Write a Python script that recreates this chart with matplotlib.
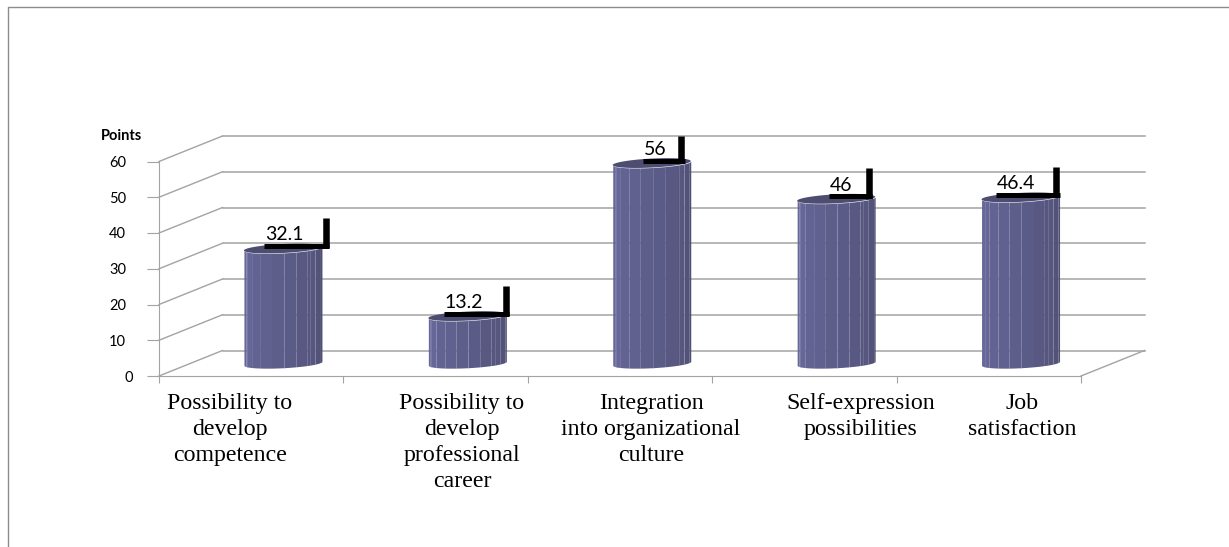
import matplotlib
matplotlib.use('Agg')
import matplotlib.pyplot as plt
import numpy as np

categories = ['Possibility to\ndevelop\ncompetence',
              'Possibility to\ndevelop\nprofessional\ncareer',
              'Integration\ninto organizational\nculture',
              'Self-expression\npossibilities',
              'Job\nsatisfaction']
values = [32.1, 13.2, 56, 46, 46.4]
value_labels = ['32.1', '13.2', '56', '46', '46.4']
yticks = [0, 10, 20, 30, 40, 50, 60]

W, H = 1229, 547
grid_col = '#a3a3a3'
side_cols = ['#67679a', '#666698', '#636393', '#61618f', '#5e5e8b', '#5b5b87', '#585882', '#56567e', '#53537a', '#505076']

# callout lines, px offsets from bar centre
call_left = [-19, -23.5, -9, -7, -25]
call_right = [46, 41.5, 33, 36, 39]
# centre of the category labels in px
label_x = [230, 462, 651, 861, 1022]

fig = plt.figure(figsize=(W / 100, H / 100), dpi=100)
ax = fig.add_axes([159 / W, 1 - 376 / H, (1081 - 159) / W, (376 - 161.5) / H])
ax.set_xlim(0, 5)
ax.set_ylim(0, 60)
px_x = (1081 - 159) / 5
px_y = (376 - 161.5) / 60
dx = 63.5 / px_x
dy = 25.5 / px_y

# outer frame
fig.add_artist(plt.Line2D([8 / W, 8 / W, 1], [0, 1 - 7 / H, 1 - 7 / H], color='#8c8c8c', lw=1))

# walls
for v in yticks:
    ax.plot([0, dx], [v, v + dy], color=grid_col, lw=1, clip_on=False, zorder=1)
    ax.plot([dx, 5 + dx], [v + dy, v + dy], color=grid_col, lw=1.1, clip_on=False, zorder=1)
ax.plot([5, 5 + dx], [0, dy], color=grid_col, lw=1, clip_on=False, zorder=1)

# cylinders
half_w = 39 / px_x
for i, v in enumerate(values):
    cx = i + 0.5 + dx / 2
    base = dy / 2
    top = v + dy / 2
    t = np.linspace(np.pi, 0, 80)
    ex = cx + half_w * np.cos(t)
    # front edge of the tilted ellipse
    front = (-4.5 * np.sin(t) + 2 * np.cos(t)) / px_y
    edges = np.linspace(0, 80, len(side_cols) + 1).astype(int)
    for k, c in enumerate(side_cols):
        a, b = edges[k], min(edges[k + 1] + 1, 80)
        ax.fill_between(ex[a:b], base + front[a:b], top + front[a:b], color=c, lw=0, zorder=3, clip_on=False)
    for k in [10, 40, 59, 64]:
        ax.plot([ex[k], ex[k]], [base + front[k], top + front[k]], color='#9a9ac4', lw=0.6, alpha=0.4, zorder=4, clip_on=False)
    t2 = np.linspace(0, 2 * np.pi, 100)
    ax.fill(cx + half_w * np.cos(t2), top + (4.5 * np.sin(t2) + 2 * np.cos(t2)) / px_y, color='#4d4d72', lw=0, zorder=5, clip_on=False)

    # black callout
    ly = top + 2.5 / px_y
    x0 = cx + call_left[i] / px_x
    x1 = cx + call_right[i] / px_x
    ax.plot([x0, x1], [ly, ly], color='black', lw=3.6, solid_capstyle='butt', zorder=6, clip_on=False)
    xv = x1 - 3.3 / px_x
    ax.plot([xv, xv], [ly - 2.5 / px_y, min(ly + 28 / px_y, 60 + dy)], color='black', lw=4.7, solid_capstyle='butt', zorder=6, clip_on=False)
    ax.text(x0 + 1 / px_x, ly + 5.5 / px_y, value_labels[i], family='Lato', fontsize=14, color='black',
            ha='left', va='baseline', zorder=7, clip_on=False)

# axes
for s in ['top', 'right']:
    ax.spines[s].set_visible(False)
for s in ['left', 'bottom']:
    ax.spines[s].set_color(grid_col)
ax.patch.set_alpha(0)
ax.set_xticks(range(6))
ax.set_xticklabels([])
ax.set_yticks(yticks)
ax.set_yticklabels([])
ax.tick_params(axis='x', color=grid_col, length=5, width=0.8)
ax.tick_params(axis='y', color=grid_col, length=8.6, width=0.8)
for v in yticks:
    right_edge = 133 if v == 0 else 126
    ax.text((right_edge - 159) / px_x, v - 1.5 / px_y, str(v), family='Lato', fontsize=10.5,
            ha='right', va='center', clip_on=False)

ax.text((101 - 159) / px_x, 60 + (161.5 - 135.5) / px_y, 'Points', family='Lato', fontweight='bold',
        fontsize=10.5, ha='left', va='center', clip_on=False)

for x, c in zip(label_x, categories):
    ax.text((x - 159) / px_x, -(393 - 376) / px_y, c, family='Liberation Serif', fontsize=17.2,
            ha='center', va='top', linespacing=1.31, clip_on=False)

fig.savefig('out.png', dpi=100)
